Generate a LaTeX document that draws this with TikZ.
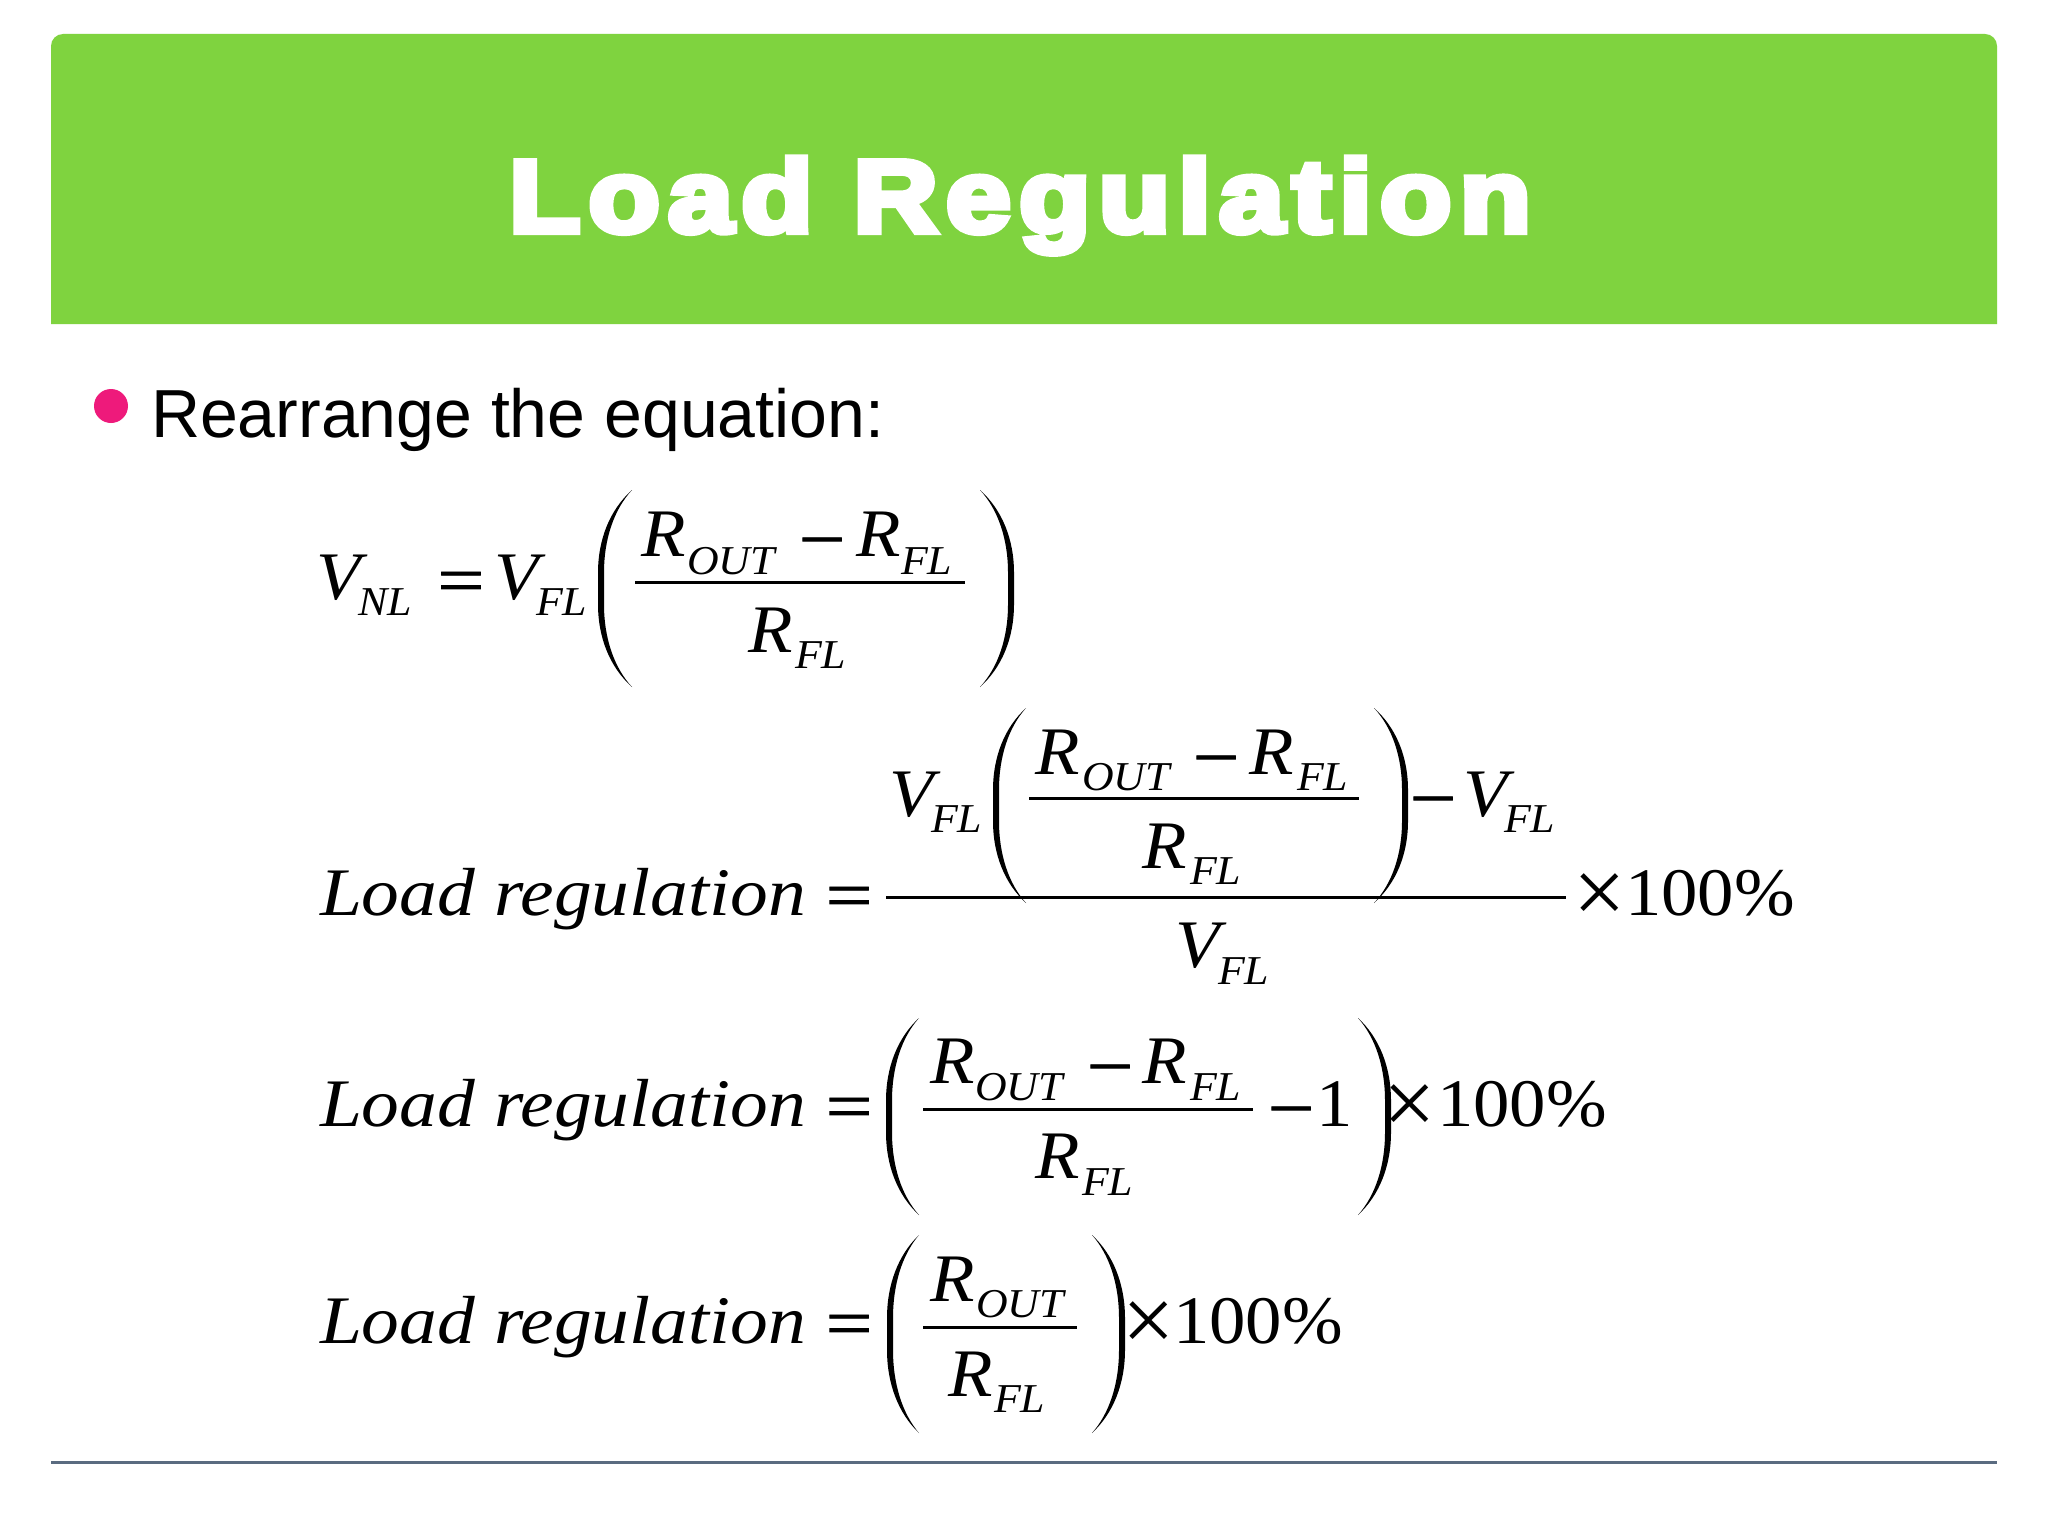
\documentclass[tikz,border=0pt]{standalone}
\usepackage{fontspec}
\usepackage{graphicx}
\setmainfont{Liberation Sans}
\newfontfamily\eqf{Liberation Serif}
\newfontfamily\opf[FakeBold=1.2]{Liberation Serif}
\newfontfamily\titlef[FakeBold=6,LetterSpace=7]{Liberation Sans Bold}
\definecolor{banner}{HTML}{7FD33F}
\definecolor{dotc}{HTML}{EE1A7B}
\definecolor{rulec}{HTML}{5A6B80}
\newcounter{nn}
\tikzset{mtxt/.style={inner sep=0pt,outer sep=0pt,anchor=base west,text=black},
         otxt/.style={inner sep=0pt,outer sep=0pt,anchor=base,text=black}}
\newcommand{\XS}{1.07}
% italic large / italic subscript / upright large
\newcommand{\BI}[3]{\stepcounter{nn}\node[mtxt] (m\arabic{nn}) at (#1,#2) {\eqf\itshape\fontsize{68}{80}\selectfont\scalebox{\XS}[1]{#3}};}
\newcommand{\LR}[2]{\stepcounter{nn}\node[mtxt] (m\arabic{nn}) at (#1,#2) {\eqf\itshape\fontsize{68}{80}\selectfont\scalebox{1.11}[1]{Load regulation}};}
\newcommand{\SI}[3]{\stepcounter{nn}\node[mtxt] (m\arabic{nn}) at (#1,#2) {\eqf\itshape\fontsize{41}{50}\selectfont\scalebox{\XS}[1]{#3}};}
\newcommand{\UP}[3]{\stepcounter{nn}\node[mtxt] (m\arabic{nn}) at (#1,#2) {\eqf\fontsize{68}{80}\selectfont\scalebox{\XS}[1]{#3}};}
% operators, given by centre x and baseline
\newcommand{\OP}[3]{\stepcounter{nn}\node[otxt] (m\arabic{nn}) at (#1,#2) {\opf\fontsize{68}{80}\selectfont\scalebox{1.22}[1]{#3}};}
\newcommand{\TM}[2]{\stepcounter{nn}\node[otxt] (m\arabic{nn}) at (#1,#2) {\eqf\fontsize{93}{100}\selectfont ×};}
\newcommand{\bigparen}[4]{%
  \pgfmathsetmacro\pin{#1+(#2>#1?6:-6)}%
  \pgfmathsetmacro\hh{#4-#3}%
  \fill[black] (#2,#3)
   .. controls ({#1+0.35*(#2-#1)},{#3+0.10*\hh}) and (#1,{#3+0.25*\hh}) .. (#1,{#3+0.42*\hh})
   -- (#1,{#4-0.42*\hh})
   .. controls (#1,{#4-0.25*\hh}) and ({#1+0.35*(#2-#1)},{#4-0.10*\hh}) .. (#2,#4)
   .. controls ({\pin+0.35*(#2-\pin)},{#4-0.10*\hh}) and (\pin,{#4-0.25*\hh}) .. (\pin,{#4-0.42*\hh})
   -- (\pin,{#3+0.42*\hh})
   .. controls (\pin,{#3+0.25*\hh}) and ({\pin+0.35*(#2-\pin)},{#3+0.10*\hh}) .. (#2,#3) -- cycle;}
\newcommand{\frule}[3]{\draw[black,line width=3pt] (#1,#3) -- (#2,#3);}
\begin{document}
\begin{tikzpicture}[x=1pt,y=-1pt]
\useasboundingbox (0,0) rectangle (2048,1536);
\fill[white] (0,0) rectangle (2048,1536);
% banner
\fill[banner] (51,324) [rounded corners=12pt] -- (51,34) -- (1997,34) [sharp corners] -- (1997,324) -- cycle;
\node[inner sep=0pt,anchor=base,text=white] (title) at (1020,232) {\titlef\fontsize{103}{120}\selectfont\scalebox{1.135}[1]{Load Regulation}};
% bullet
\node[circle,fill=dotc,minimum size=34pt,inner sep=0pt] (dot) at (111,406) {};
\node[mtxt] (bullet) at (151,437) {\fontsize{68}{80}\selectfont Rearrange the equation:};
% equation 1
\BI{316}{599}{V}\SI{358}{615}{NL}\OP{461}{603}{=}
\BI{494}{599}{V}\SI{536}{615}{FL}
\bigparen{598}{632}{490}{687}
\BI{641}{556}{R}\SI{687}{574}{OUT}\OP{822}{562}{−}\BI{856}{556}{R}\SI{901}{574}{FL}
\frule{635}{965}{582}
\BI{748}{652}{R}\SI{795}{668}{FL}
\bigparen{1014}{980}{490}{687}
% equation 2
\LR{320}{915}\OP{849}{918}{=}
\BI{889}{816}{V}\SI{931}{832}{FL}
\bigparen{993}{1026}{708}{903}
\BI{1035}{774}{R}\SI{1082}{790}{OUT}\OP{1216}{780}{−}\BI{1249}{774}{R}\SI{1297}{790}{FL}
\frule{1029}{1359}{798}
\BI{1142}{868}{R}\SI{1190}{884}{FL}
\bigparen{1408}{1374}{708}{903}
\OP{1433}{821}{−}\BI{1463}{816}{V}\SI{1504}{832}{FL}
\frule{886}{1566}{897}
\BI{1175}{967}{V}\SI{1218}{984}{FL}
\TM{1600}{923}\UP{1625}{915}{100\%}
% equation 3
\LR{320}{1126}\OP{849}{1129}{=}
\bigparen{886}{919}{1018}{1215}
\BI{930}{1083}{R}\SI{975}{1100}{OUT}\OP{1110}{1089}{−}\BI{1142}{1083}{R}\SI{1190}{1100}{FL}
\frule{923}{1253}{1109}
\BI{1035}{1178}{R}\SI{1082}{1195}{FL}
\OP{1291}{1131}{−}\UP{1316}{1126}{1}
\bigparen{1391}{1358}{1018}{1215}
\TM{1410}{1134}\UP{1437}{1126}{100\%}
% equation 4
\LR{320}{1343}\OP{849}{1346}{=}
\bigparen{887}{919}{1235}{1433}
\BI{930}{1301}{R}\SI{976}{1317}{OUT}
\frule{923}{1077}{1327}
\BI{948}{1396}{R}\SI{994}{1412}{FL}
\bigparen{1125}{1092}{1235}{1433}
\TM{1149}{1351}\UP{1173}{1343}{100\%}
% bottom rule
\draw[rulec,line width=3pt] (51,1462) -- (1997,1462);
\end{tikzpicture}
\end{document}
